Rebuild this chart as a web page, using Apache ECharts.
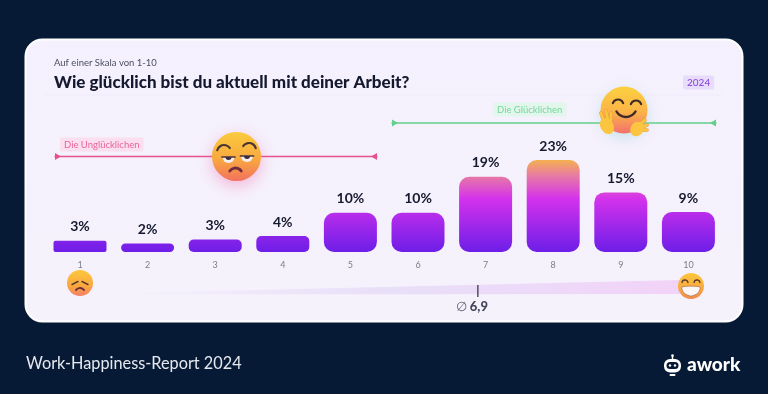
<!DOCTYPE html>
<html>
<head>
<meta charset="utf-8">
<style>
    html, body { margin: 0; padding: 0; background: #071a35; }
    #chart { width: 768px; height: 394px; }
</style>
</head>
<body>
<div id="chart"></div>
<script src="https://cdn.jsdelivr.net/npm/echarts@6/dist/echarts.min.js"></script>
<script>
    const categories = ['1', '2', '3', '4', '5', '6', '7', '8', '9', '10']
    const shareLabels = ['3%', '2%', '3%', '4%', '10%', '10%', '19%', '23%', '15%', '9%']
    // bar lengths as drawn in the picture, the labels are rounded
    const barValues = [2.8, 2.1, 3.1, 4, 9.8, 9.8, 18.8, 23, 14.9, 10]
    const averageValue = 6.9
    const averageLabel = '6,9'

    const FONT = 'Lato, "Noto Sans", sans-serif'
    const DARK = '#15192f'
    const chart = echarts.init(document.getElementById('chart'))

    function grad (x, y, x2, y2, stops) {
        return new echarts.graphic.LinearGradient(x, y, x2, y2, stops.map((c) => ({ offset: c[0], color: c[1] })))
    }

    function stroke (type, shape, color, width, z) {
        return { type, shape, z: z || 20, silent: true, style: { fill: null, stroke: color, lineWidth: width, lineCap: 'round' } }
    }

    function arc (cx, cy, r, from, to, color, width) {
        return stroke('arc', { cx, cy, r, startAngle: from * Math.PI / 180, endAngle: to * Math.PI / 180, clockwise: true }, color, width)
    }

    function face (cx, cy, r, stops, shadow, blur) {
        return {
            type: 'circle', z: 18, silent: true, shape: { cx, cy, r },
            style: { fill: grad(0, 0, 0, 1, stops), shadowColor: shadow, shadowBlur: blur || 0, shadowOffsetY: blur ? 5 : 0 }
        }
    }

    function range (x1, x2, y, color) {
        return [
            stroke('line', { x1, y1: y, x2, y2: y }, color, 1.5, 5),
            { type: 'polygon', z: 5, silent: true, shape: { points: [[x1, y - 3.5], [x1 + 6, y], [x1, y + 3.5]] }, style: { fill: color } },
            { type: 'polygon', z: 5, silent: true, shape: { points: [[x2, y - 3.5], [x2 - 6, y], [x2, y + 3.5]] }, style: { fill: color } }
        ]
    }

    function tag (text, x, y, color, bg, size, weight) {
        return {
            type: 'text', z: 6, silent: true, x, y,
            style: {
                text, fill: color, font: `${weight || 400} ${size}px ${FONT}`,
                backgroundColor: bg, padding: [2, 4, 2, 4], borderRadius: 2, verticalAlign: 'middle'
            }
        }
    }

    // half closed eye: flat dark lid, white and iris hanging below it
    function eye (cx, cy) {
        const half = (r, fill, z) => ({
            type: 'sector', z, silent: true,
            shape: { cx, cy, r, r0: 0, startAngle: 0, endAngle: Math.PI },
            style: { fill }
        })
        return [
            half(6, '#f7eef2', 20),
            half(3, '#3a2a3a', 21),
            stroke('line', { x1: cx - 6.5, y1: cy, x2: cx + 6.5, y2: cy }, '#4a3040', 1.7, 22)
        ]
    }

    function finger (x1, y1, x2, y2) {
        return [
            stroke('line', { x1, y1, x2, y2 }, '#ee9a3c', 3.6, 22),
            stroke('line', { x1, y1, x2, y2 }, '#fbc540', 2.6, 23)
        ]
    }

    const unhappyFace = [
        face(236.5, 156.5, 24.5, [[0, '#fbcb3c'], [0.55, '#f8a93f'], [1, '#f2715f']], 'rgba(240,110,170,0.45)', 16),
        arc(224, 152, 7, 195, 325, '#4a3434', 2.2),
        arc(249, 150, 7, 215, 345, '#4a3434', 2.2),
        ...eye(228.5, 157),
        ...eye(247, 156),
        arc(235.5, 175, 7, 215, 325, '#6e2c3a', 2.8)
    ]

    const hugFace = [
        face(624, 110, 23.5, [[0, '#fbd140'], [0.55, '#fbb347'], [1, '#f3706f']], 'rgba(120,200,200,0.35)', 14),
        arc(618, 105, 5.5, 200, 340, '#3f2a2a', 2.2),
        arc(636, 106, 5.5, 200, 340, '#3f2a2a', 2.2),
        arc(626, 106, 11, 30, 150, '#3f2a2a', 2.4),
        ...finger(601, 113, 604, 122),
        ...finger(606, 111, 608, 120),
        ...finger(611, 113, 611, 120),
        ...finger(645, 120, 640, 124),
        ...finger(647, 125, 642, 127),
        ...finger(647, 130, 642, 130),
        { type: 'ellipse', z: 24, silent: true, shape: { cx: 607, cy: 126, rx: 6.5, ry: 8.5 }, rotation: 0.5, originX: 607, originY: 126, style: { fill: '#fbc540' } },
        { type: 'ellipse', z: 24, silent: true, shape: { cx: 637, cy: 129, rx: 6.5, ry: 7.5 }, rotation: -0.5, originX: 637, originY: 129, style: { fill: '#fbc540' } }
    ]

    const sadFace = [
        face(80, 283, 13, [[0, '#fcc83c'], [0.65, '#f8a53f'], [1, '#f5806a']]),
        stroke('line', { x1: 72, y1: 284.5, x2: 78, y2: 281.5 }, '#5a3a30', 1.4),
        stroke('line', { x1: 88, y1: 284.5, x2: 82, y2: 281.5 }, '#5a3a30', 1.4),
        arc(80, 293, 5, 215, 325, '#6e2c3a', 1.8)
    ]

    const grinFace = [
        face(691, 286, 13, [[0, '#fcc83c'], [0.6, '#f8a93f'], [1, '#f08a50']]),
        arc(685, 283, 3, 190, 350, '#5a3a30', 1.4),
        arc(697, 283, 3, 190, 350, '#5a3a30', 1.4),
        { type: 'polygon', z: 20, silent: true, shape: { smooth: 0.25, points: [[682, 287], [700, 287], [698, 293], [691, 296], [684, 293]] }, style: { fill: '#fdf6f8', stroke: '#8a4a3a', lineWidth: 0.5 } }
    ]

    const logo = [
        { type: 'rect', z: 5, silent: true, shape: { x: 664, y: 359, width: 17, height: 13.5, r: 6 }, style: { fill: '#fff' } },
        { type: 'rect', z: 6, silent: true, shape: { x: 666.5, y: 362, width: 12, height: 7, r: 3.5 }, style: { fill: '#071a35' } },
        { type: 'circle', z: 7, silent: true, shape: { cx: 670, cy: 365.5, r: 1.2 }, style: { fill: '#fff' } },
        { type: 'circle', z: 7, silent: true, shape: { cx: 675, cy: 365.5, r: 1.2 }, style: { fill: '#fff' } },
        stroke('line', { x1: 672.5, y1: 356, x2: 672.5, y2: 359 }, '#fff', 1.5, 5),
        { type: 'circle', z: 5, silent: true, shape: { cx: 672.5, cy: 355.5, r: 1.3 }, style: { fill: '#fff' } },
        stroke('line', { x1: 670.5, y1: 375, x2: 674.5, y2: 375 }, '#fff', 2, 5)
    ]

    chart.setOption({
        animation: false,
        backgroundColor: '#071a35',
        textStyle: { fontFamily: FONT },
        title: [{
            text: 'Auf einer Skala von 1-10',
            left: 54, top: 58, padding: 0,
            textStyle: { fontSize: 9.5, fontWeight: 400, color: '#4b4f63' }
        }, {
            text: 'Wie glücklich bist du aktuell mit deiner Arbeit?',
            left: 54, top: 74, padding: 0,
            textStyle: { fontSize: 17, fontWeight: 900, color: DARK }
        }, {
            text: 'Work-Happiness-Report 2024',
            left: 26, top: 356, padding: 0,
            textStyle: { fontSize: 16.3, fontWeight: 400, color: '#e6e8ef' }
        }, {
            text: 'awork',
            left: 687, top: 355, padding: 0,
            textStyle: { fontSize: 19, fontWeight: 900, color: '#fff' }
        }],
        grid: { left: 46.2, right: 45.8, top: 160, bottom: 142, containLabel: false },
        xAxis: [{
            type: 'category',
            data: categories,
            axisLine: { show: false },
            axisTick: { show: false },
            axisLabel: { color: '#7c7d8c', fontSize: 9, margin: 9 }
        }, {
            // same span as the categories, lets the average sit at its real value
            type: 'value',
            min: 0.5,
            max: 10.5,
            show: false
        }],
        yAxis: { type: 'value', min: 0, max: 23, show: false },
        graphic: [
            {
                type: 'rect', z: -10, silent: true,
                shape: { x: 25.5, y: 39.5, width: 717, height: 282, r: 17 },
                style: { fill: grad(0, 0, 0, 1, [[0, '#f4f0fd'], [1, '#f6f2fc']]), stroke: '#ffffff', lineWidth: 2 }
            },
            stroke('line', { x1: 45, y1: 95, x2: 722, y2: 95 }, '#f0ebfb', 1, -9),
            {
                type: 'polygon', z: -8, silent: true,
                shape: { points: [[105, 293.5], [680, 280], [680, 294], [105, 294.5]] },
                style: { fill: grad(0, 0, 1, 0, [[0, 'rgba(232,222,248,0)'], [0.5, '#e8dff8'], [1, '#f2d3f8']]) }
            },
            ...range(55, 377, 156.5, '#e5528f'),
            ...range(392, 716, 123, '#62d08c'),
            tag('Die Unglücklichen', 60, 144.5, '#e9659c', '#fbdfee', 9.5),
            tag('Die Glücklichen', 493, 109.5, '#74d89c', '#e2f6ec', 9.5),
            tag('2024', 683, 82.5, '#8a4fdc', '#e8dcfb', 10, 500),
            ...unhappyFace,
            ...hugFace,
            ...sadFace,
            ...grinFace,
            ...logo
        ],
        series: [{
            type: 'bar',
            barWidth: 53,
            data: barValues.map((v, i) => ({
                value: v,
                itemStyle: { borderRadius: i === 0 ? 2 : v < 5 ? 5 : 10 }
            })),
            itemStyle: {
                // one gradient over the whole plot height, short bars only get the purple end
                color: new echarts.graphic.LinearGradient(0, 160, 0, 252, [
                    { offset: 0, color: '#f5b050' },
                    { offset: 0.16, color: '#e87ea0' },
                    { offset: 0.42, color: '#d432ec' },
                    { offset: 1, color: '#6d1ee8' }
                ], true)
            },
            label: {
                show: true,
                position: 'top',
                distance: 7,
                color: DARK,
                fontSize: 14,
                fontWeight: 700,
                formatter: (p) => shareLabels[p.dataIndex]
            }
        }, {
            type: 'scatter',
            xAxisIndex: 1,
            data: [[averageValue, 0]],
            symbol: 'rect',
            symbolSize: [1.5, 12],
            symbolOffset: [-1, 39],
            itemStyle: { color: '#2a2a3e' },
            clip: false,
            silent: true,
            label: {
                show: true,
                position: 'bottom',
                distance: 3,
                offset: [-6, 0],
                formatter: () => `{a|∅} {b|${averageLabel}}`,
                rich: {
                    a: { fontSize: 13, fontFamily: FONT, color: '#3a3c50' },
                    b: { fontSize: 13, fontFamily: FONT, fontWeight: 900, color: DARK }
                }
            }
        }]
    })
</script>
</body>
</html>
